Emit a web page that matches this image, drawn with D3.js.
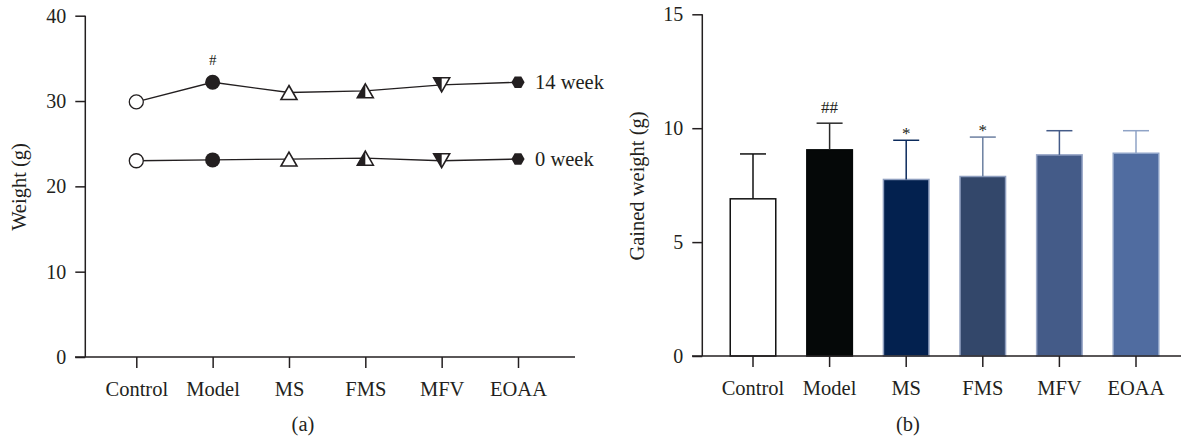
<!DOCTYPE html>
<html>
<head>
<meta charset="utf-8">
<script src="https://cdn.jsdelivr.net/npm/d3@7"></script>
<style>
  body { margin: 0; background: #fff; }
  text { font-family: "Liberation Serif", "Times New Roman", serif; fill: #231f20; }
</style>
</head>
<body>
<script>
// Data
const groups = ["Control", "Model", "MS", "FMS", "MFV", "EOAA"];
const week14 = [29.9, 32.2, 31.0, 31.2, 31.9, 32.2];
const week0 = [23.0, 23.1, 23.2, 23.3, 23.0, 23.2];
const weightTicks = [0, 10, 20, 30, 40];

const gained = [6.9, 9.05, 7.75, 7.88, 8.83, 8.9];
const gainedErr = [1.97, 1.17, 1.72, 1.73, 1.06, 0.99];
const gainedTicks = [0, 5, 10, 15];
const barFill = ["#ffffff", "#050808", "#03214f", "#33476a", "#445b88", "#506ca0"];
const barEdge = ["#111111", "#050808", "#8f9fbf", "#8f9fbf", "#9aa8c8", "#8ea3c8"];
const errColor = ["#111111", "#2a2a2a", "#0b2a5c", "#6b7fa0", "#445b88", "#8fa3c6"];
const marks = ["", "##", "*", "*", "", ""];

const w = 1181;
const h = 439;
const ink = "#231f20";
const numSize = 20;
const catSize = 20.5;

const svg = d3.select("body").append("svg")
    .attr("width", w)
    .attr("height", h);

// ---------- Panel (a) ----------
const ax = 85.3, ay0 = 357, ay1 = 15.7;
const xA = d3.scalePoint().domain(groups).range([136.3, 518]);
const yA = d3.scaleLinear().domain([0, 40]).range([ay0, ay1]);

const gA = svg.append("g");

// y axis
const yAxisA = gA.append("g")
    .attr("transform", `translate(${ax},0)`)
    .call(d3.axisLeft(yA).tickValues(weightTicks).tickSize(10).tickPadding(9).tickSizeOuter(0));
yAxisA.select(".domain").remove();
yAxisA.selectAll(".tick text").attr("font-size", numSize);
gA.append("line").attr("x1", ax).attr("x2", ax).attr("y1", ay1).attr("y2", ay0)
    .attr("stroke", ink).attr("stroke-width", 1.5);

// x axis
const xAxisA = gA.append("g")
    .attr("transform", `translate(0,${ay0})`)
    .call(d3.axisBottom(xA).tickSize(11).tickPadding(13).tickSizeOuter(0));
xAxisA.select(".domain").remove();
xAxisA.selectAll(".tick text").attr("font-size", catSize);
gA.append("line").attr("x1", 75).attr("x2", 575).attr("y1", ay0).attr("y2", ay0)
    .attr("stroke", ink).attr("stroke-width", 1.5);

gA.append("text")
    .attr("transform", `translate(26,187) rotate(-90)`)
    .attr("text-anchor", "middle")
    .attr("font-size", 20.5)
    .text("Weight (g)");

gA.append("text").attr("x", 303).attr("y", 431).attr("text-anchor", "middle")
    .attr("font-size", 20.5).text("(a)");

// lines
const lineA = d3.line().x((d, i) => xA(groups[i])).y(d => yA(d));
[week14, week0].forEach(s => {
    gA.append("path").datum(s).attr("d", lineA)
        .attr("fill", "none").attr("stroke", ink).attr("stroke-width", 1.3);
});

// markers
function marker(g, i, cx, cy) {
    const t = 8, th = 7;      // triangle half width / half height
    if (i === 0) {
        g.append("circle").attr("cx", cx).attr("cy", cy).attr("r", 7)
            .attr("fill", "#fff").attr("stroke", ink).attr("stroke-width", 1.3);
    } else if (i === 1) {
        g.append("circle").attr("cx", cx).attr("cy", cy).attr("r", 7.5).attr("fill", ink);
    } else if (i === 2 || i === 3) {
        const pts = [[cx, cy - th], [cx + t, cy + th], [cx - t, cy + th]];
        g.append("path").attr("d", d3.line()(pts) + "Z")
            .attr("fill", "#fff").attr("stroke", ink).attr("stroke-width", 1.6);
        if (i === 3) {
            g.append("path").attr("d", d3.line()([[cx, cy - th], [cx, cy + th], [cx - t, cy + th]]) + "Z")
                .attr("fill", ink);
        }
    } else if (i === 4) {
        const pts = [[cx - t, cy - th], [cx + t, cy - th], [cx, cy + th]];
        g.append("path").attr("d", d3.line()(pts) + "Z")
            .attr("fill", "#fff").attr("stroke", ink).attr("stroke-width", 1.6);
        g.append("path").attr("d", d3.line()([[cx - t, cy - th], [cx, cy - th], [cx, cy + th]]) + "Z")
            .attr("fill", ink);
    } else {
        const pts = d3.range(6).map(k => [cx + 6.6 * Math.cos(k * Math.PI / 3), cy + 6.6 * Math.sin(k * Math.PI / 3)]);
        g.append("path").attr("d", d3.line()(pts) + "Z").attr("fill", ink);
    }
}
[week14, week0].forEach(s => {
    s.forEach((v, i) => marker(gA, i, xA(groups[i]), yA(v)));
});

gA.append("text").attr("x", 535).attr("y", yA(week14[5]) + 7).attr("font-size", 20.5).text("14 week");
gA.append("text").attr("x", 535).attr("y", yA(week0[5]) + 7).attr("font-size", 20.5).text("0 week");
gA.append("text").attr("x", xA("Model")).attr("y", yA(week14[1]) - 17).attr("text-anchor", "middle")
    .attr("font-size", 15).text("#");

// ---------- Panel (b) ----------
const bx = 702.3, by0 = 356, by1 = 14.3;
const xB = d3.scaleBand().domain(groups).range([714.7, 1174.3]).paddingInner(0.386).paddingOuter(0.193);
const yB = d3.scaleLinear().domain([0, 15]).range([by0, by1]);

const gB = svg.append("g");

// bars
gB.selectAll("rect").data(gained).enter().append("rect")
    .attr("x", (d, i) => xB(groups[i]) + 0.75)
    .attr("y", d => yB(d))
    .attr("width", xB.bandwidth() - 1.5)
    .attr("height", d => by0 - yB(d))
    .attr("fill", (d, i) => barFill[i])
    .attr("stroke", (d, i) => barEdge[i])
    .attr("stroke-width", 1.5);

// error bars
gained.forEach((v, i) => {
    const cx = xB(groups[i]) + xB.bandwidth() / 2;
    const top = yB(v + gainedErr[i]);
    gB.append("line").attr("x1", cx).attr("x2", cx).attr("y1", yB(v)).attr("y2", top)
        .attr("stroke", errColor[i]).attr("stroke-width", 1.5);
    gB.append("line").attr("x1", cx - 13).attr("x2", cx + 13).attr("y1", top).attr("y2", top)
        .attr("stroke", errColor[i]).attr("stroke-width", 1.5);
    if (marks[i]) {
        gB.append("text").attr("x", cx).attr("y", top - (marks[i] === "##" ? 10 : 1))
            .attr("text-anchor", "middle").attr("font-size", 17).text(marks[i]);
    }
});

const yAxisB = gB.append("g")
    .attr("transform", `translate(${bx},0)`)
    .call(d3.axisLeft(yB).tickValues(gainedTicks).tickSize(10).tickPadding(9).tickSizeOuter(0));
yAxisB.select(".domain").remove();
yAxisB.selectAll(".tick text").attr("font-size", numSize);
gB.append("line").attr("x1", bx).attr("x2", bx).attr("y1", by1).attr("y2", by0)
    .attr("stroke", ink).attr("stroke-width", 1.5);

const xAxisB = gB.append("g")
    .attr("transform", `translate(0,${by0})`)
    .call(d3.axisBottom(xB).tickSize(11).tickPadding(13).tickSizeOuter(0));
xAxisB.select(".domain").remove();
xAxisB.selectAll(".tick text").attr("font-size", catSize);
gB.append("line").attr("x1", 692).attr("x2", 1181).attr("y1", by0).attr("y2", by0)
    .attr("stroke", ink).attr("stroke-width", 1.5);

svg.selectAll(".tick line").attr("stroke", ink).attr("stroke-width", 1.5);
svg.selectAll(".tick text").attr("font-family", "Liberation Serif").attr("fill", ink);

gB.append("text")
    .attr("transform", `translate(644,186) rotate(-90)`)
    .attr("text-anchor", "middle")
    .attr("font-size", 20.5)
    .text("Gained weight (g)");

gB.append("text").attr("x", 908).attr("y", 431).attr("text-anchor", "middle")
    .attr("font-size", 20.5).text("(b)");
</script>
</body>
</html>
